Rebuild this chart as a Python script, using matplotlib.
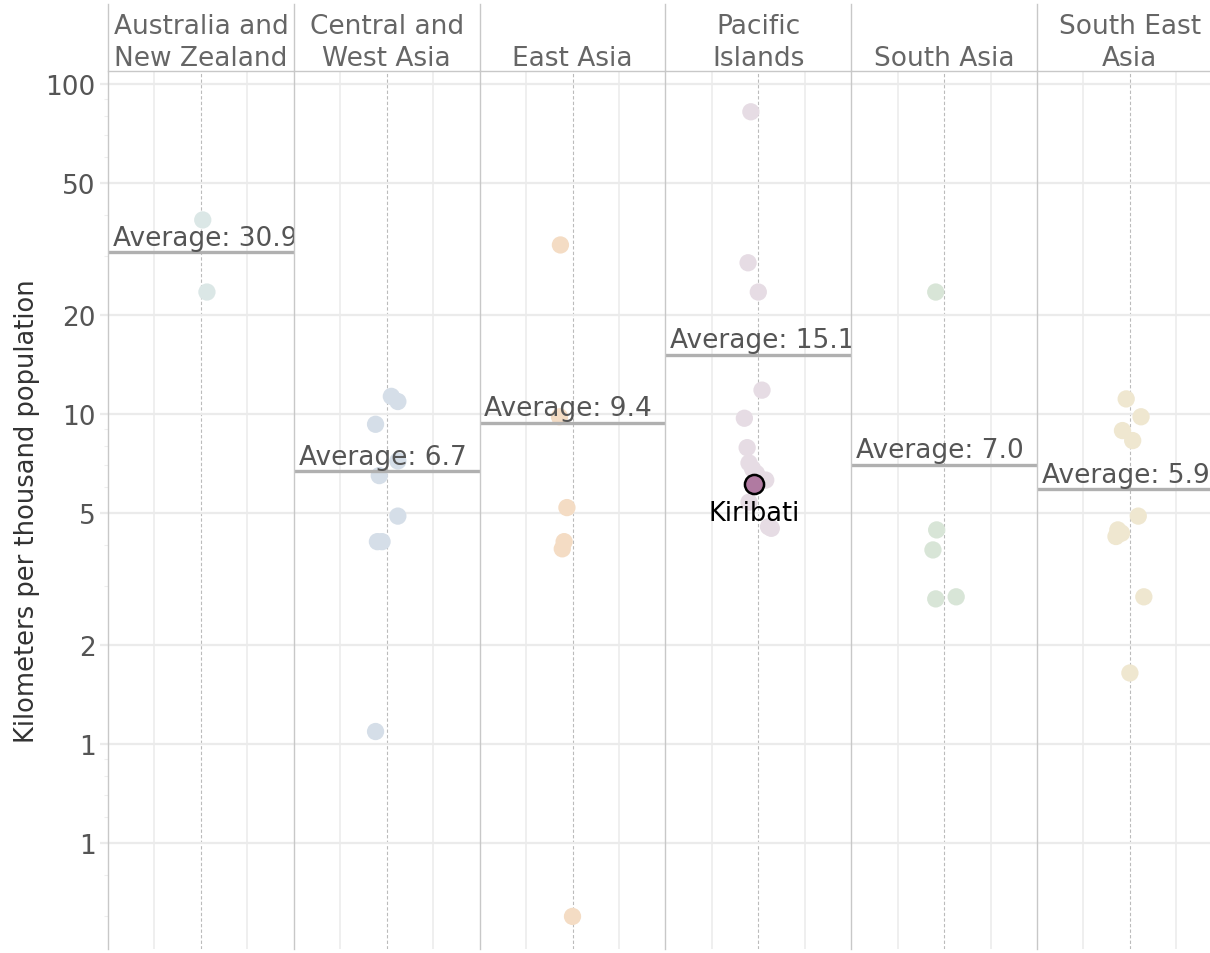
import matplotlib
matplotlib.use("Agg")
import matplotlib.pyplot as plt
from matplotlib.lines import Line2D
import numpy as np

# facets
regions = ["Australia and\nNew Zealand", "Central and\nWest Asia", "East Asia",
           "Pacific\nIslands", "South Asia", "South East\nAsia"]
point_colors = ["#dbe7e6", "#d5dee8", "#f4dcc4", "#e6dce4", "#d8e5d7", "#efe7d0"]
highlight_color = "#b07aa1"
averages = [30.9, 6.7, 9.4, 15.1, 7.0, 5.9]

# km per thousand population, one list per region
values = [
    [38.7, 23.4],
    [11.3, 10.9, 9.3, 7.2, 6.5, 4.9, 4.1, 4.1, 1.09],
    [32.5, 9.8, 5.2, 4.1, 3.9, 0.30],
    [82.3, 28.7, 23.4, 11.8, 9.7, 7.9, 7.1, 6.8, 6.6, 6.3, 5.4, 4.55, 4.5],
    [23.4, 4.45, 3.87, 2.75, 2.79],
    [11.1, 9.8, 8.9, 8.3, 4.9, 4.45, 4.35, 4.25, 2.79, 1.64],
]
# horizontal jitter inside each facet (-1..1)
jitter = [
    [0.02, 0.065],
    [0.05, 0.12, -0.12, 0.12, -0.08, 0.12, -0.10, -0.05, -0.12],
    [-0.13, -0.14, -0.06, -0.09, -0.11, 0.0],
    [-0.08, -0.11, 0.0, 0.04, -0.15, -0.12, -0.10, -0.06, -0.02, 0.08, -0.10, 0.11, 0.14],
    [-0.09, -0.08, -0.12, -0.09, 0.13],
    [-0.04, 0.12, -0.08, 0.03, 0.09, -0.13, -0.09, -0.15, 0.15, 0.0],
]
highlight_region = 3
highlight_name = "Kiribati"
highlight_value = 6.14
highlight_jitter = -0.05

yticks = [0.5, 1, 2, 5, 10, 20, 50, 100]
yticklabels = ["1", "1", "2", "5", "10", "20", "50", "100"]

W, H = 1210, 954
fig = plt.figure(figsize=(W / 100, H / 100), dpi=100)

left, pw = 108, 185.8
top, bottom = 72, 950
border = "#c8c8c8"

axes = []
for i, name in enumerate(regions):
    x0 = left + i * pw
    ax = fig.add_axes([x0 / W, (H - bottom) / H, pw / W, (bottom - top) / H])
    axes.append(ax)
    ax.set_yscale("log")
    ax.set_ylim(0.239, 109.4)
    ax.set_xlim(-1, 1)
    for s in ax.spines.values():
        s.set_visible(False)
    ax.spines["top"].set_visible(True)
    ax.spines["top"].set_color(border)
    ax.spines["top"].set_linewidth(1.0)

    ax.set_xticks([])
    for gx in (-0.5, 0.5):
        ax.axvline(gx, color="#eeeeee", lw=1.3, zorder=0)
    ax.axvline(0, color="#bbbbbb", lw=0.8, ls=(0, (3, 2)), zorder=0)

    ax.set_yticks(yticks)
    ax.yaxis.set_minor_locator(matplotlib.ticker.LogLocator(subs=np.arange(2, 10)))
    ax.yaxis.set_minor_formatter(matplotlib.ticker.NullFormatter())
    ax.grid(axis="y", which="major", color="#ebebeb", lw=1.6, zorder=0)
    if i == 0:
        ax.set_yticklabels(yticklabels)
        ax.tick_params(axis="y", which="major", length=6, width=1.6,
                       color="#ebebeb", labelsize=19, labelcolor="#555555", pad=3)
        ax.tick_params(axis="y", which="minor", length=3, width=0.8, color="#eeeeee")
        ax.set_ylabel("Kilometers per thousand population", fontsize=18.5,
                      color="#333333", labelpad=4)
    else:
        ax.tick_params(axis="y", which="both", left=False, labelleft=False)

    # points
    ax.scatter(jitter[i], values[i], s=155, color=point_colors[i],
               edgecolors="none", zorder=3)

    # average line + label
    avg = averages[i]
    ax.axhline(avg, color="#b0b0b0", lw=2.4, zorder=4)
    ax.annotate(f"Average: {avg:.1f}", xy=(-1, avg), xytext=(3.5, 5.5),
                textcoords="offset points", fontsize=19, color="#555555",
                va="baseline", ha="left", zorder=5, annotation_clip=False,
                clip_on=True)

    # facet strip title
    ax.text(0.5, 1.0, name, transform=ax.transAxes, ha="center", va="bottom",
            fontsize=19, color="#666666", linespacing=1.3,
            clip_on=False)

# highlighted country
hax = axes[highlight_region]
hax.scatter([highlight_jitter], [highlight_value], s=190, color=highlight_color,
            edgecolors="black", linewidths=1.8, zorder=6)
hax.annotate(highlight_name, xy=(highlight_jitter, highlight_value), xytext=(0, -12),
             textcoords="offset points", ha="center", va="top", fontsize=18.5,
             color="black", zorder=6)

# panel borders spanning strip and plot area
for i in range(len(regions) + 1):
    xf = (left + i * pw) / W
    fig.add_artist(Line2D([xf, xf], [(H - 950) / H, (H - 5) / H],
                          transform=fig.transFigure, color=border, lw=1.0))

fig.savefig("out.png", dpi=100, facecolor="white")
